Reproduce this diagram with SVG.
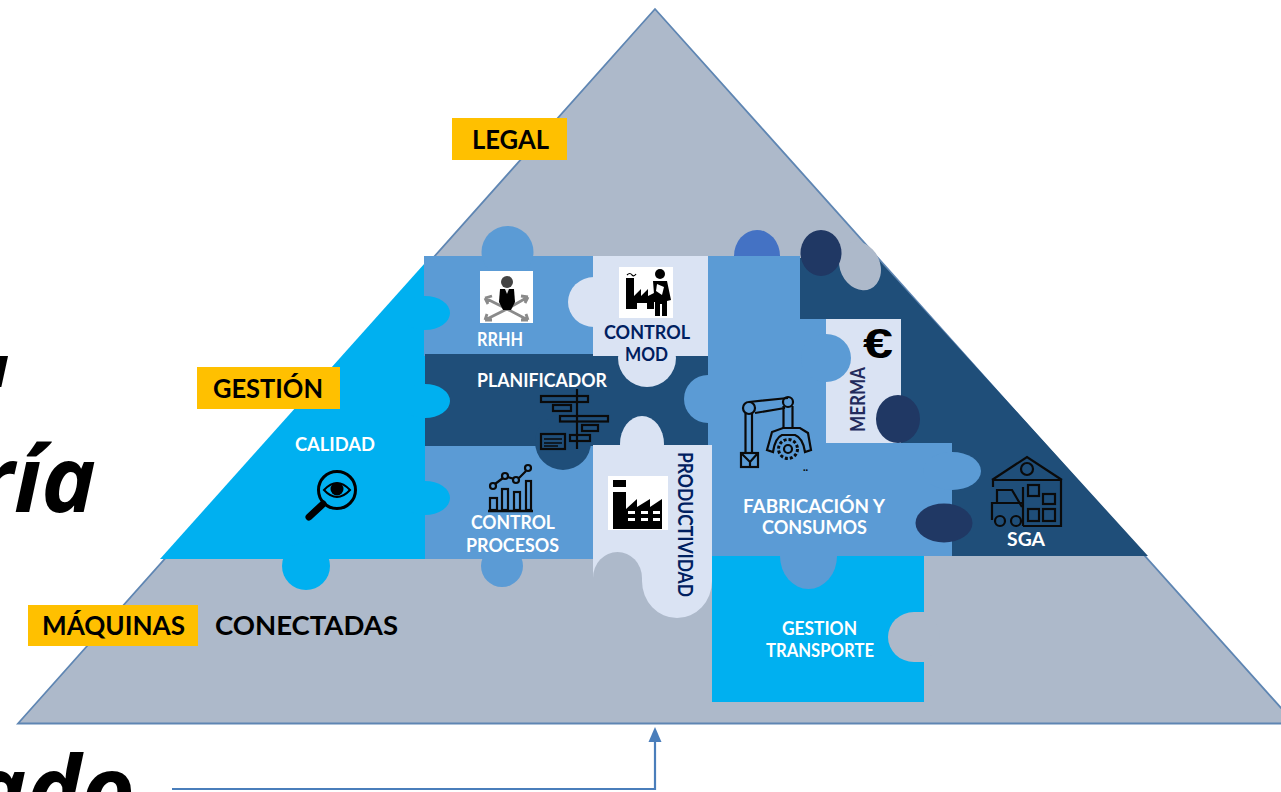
<svg xmlns="http://www.w3.org/2000/svg" width="1281" height="792" viewBox="0 0 1281 792">
<style>
.l{font-family:Lato,"Open Sans",sans-serif;font-weight:700}
.y{font-size:26px;fill:#000}
.w{font-size:18px;fill:#fff}
.n{font-size:18px;fill:#002060}
.big{font-family:"Open Sans",sans-serif;font-style:italic;font-weight:700;fill:#000;font-size:92px}
.cy{fill:#00B0F0}.mb{fill:#5B9BD5}.db{fill:#1F4E79}.lt{fill:#DAE3F3}.gr{fill:#ADB9CA}.nv{fill:#203864}.yl{fill:#FFC000}
.ik{fill:none;stroke:#0a0a0a;stroke-width:2.2}
.gy{fill:none;stroke:#8a8a8a;stroke-width:2.8}
.k{fill:#000}
</style>

<g id="fragments">
<text class="big" x="135" y="822" text-anchor="end">ado</text>
<text class="big" x="96" y="512" text-anchor="end">ría</text>
<text class="big" x="9" y="387" text-anchor="end" style="font-size:58px">u</text>
</g>

<g id="piramide"><polygon points="655,9 18,723.500 1295,723.500" class="gr" stroke="#5F86B3" stroke-width="1.800"/></g>

<g id="connectors">
<path d="M172 789H655V742" fill="none" stroke="#4A7EBB" stroke-width="2.2"/>
<path d="M655 727L661.500 742H648.500Z" fill="#4A7EBB"/>
</g>

<g id="sga">
<path class="db" d="M800 258H877L1148 556H952V443H901V319H800Z"/>
<ellipse class="gr" cx="860" cy="266" rx="20" ry="25" transform="rotate(-25 860 266)"/>
<ellipse class="nv" cx="821" cy="253" rx="20.500" ry="23"/>
<ellipse cx="757" cy="256" rx="23" ry="26" fill="#4472C4"/>
<g class="ik">
<path d="M992 480L1027 457L1062 480M993 480H1061M993 480V487M1061 480V526H1023M1023 487V526"/>
<circle cx="1027" cy="469" r="6"/>
<rect x="1028" y="485" width="11" height="11"/><rect x="1043" y="494" width="12" height="10"/>
<rect x="1028" y="509" width="11" height="12"/><rect x="1043" y="509" width="12" height="12"/>
<path d="M992 520V503H1023M997 503V490H1012L1022 507"/>
<circle cx="1000" cy="521" r="5"/><circle cx="1016" cy="521" r="5"/>
</g>
<text class="l w" x="1007" y="546" textLength="38" lengthAdjust="spacingAndGlyphs">SGA</text>
</g>

<g id="calidad">
<path class="cy" d="M160 559L425 263V559Z"/>
<circle class="cy" cx="306" cy="566" r="24"/>
<text class="l w" x="295" y="451" textLength="80" lengthAdjust="spacingAndGlyphs">CALIDAD</text>
<circle cx="337" cy="490" r="18.500" fill="none" stroke="#000" stroke-width="3"/>
<path d="M309 517L323 504" stroke="#000" stroke-width="7" stroke-linecap="round"/>
<path d="M324 490Q337 476 350 490Q337 504 324 490Z" fill="none" stroke="#000" stroke-width="2"/>
<circle cx="337" cy="489" r="6.500" fill="#000"/>
</g>

<g id="rrhh">
<rect class="mb" x="424" y="256" width="170" height="100"/>
<circle class="mb" cx="507.500" cy="252" r="26"/>
<ellipse class="cy" cx="425" cy="313" rx="25" ry="17"/>
<rect x="480" y="271" width="53" height="52" fill="#fff"/>
<path class="gy" d="M507 309L485 298M485 298L492 296M485 298L488 304M507 309L528 297M528 297L521 296M528 297L525 303M507 309L485 320M485 320L492 320M485 320L487 314M507 309L528 320M528 320L521 320M528 320L526 314"/>
<circle cx="507" cy="282" r="6" fill="#444"/>
<path class="k" d="M500 289H514L515 302L511 310H503L499 302Z"/>
<path d="M505 289L507 294L509 289Z" fill="#ddd"/>
<text class="l w" x="477" y="346" textLength="46" lengthAdjust="spacingAndGlyphs">RRHH</text>
</g>

<g id="control-procesos">
<rect class="mb" x="425" y="446" width="168" height="113"/>
<ellipse class="cy" cx="425" cy="498" rx="25" ry="17"/>
<circle class="mb" cx="502" cy="566" r="21"/>
<g class="ik">
<rect x="490" y="498" width="7" height="12"/><rect x="502" y="489" width="6" height="21"/><rect x="514" y="492" width="6" height="18"/><rect x="526" y="481" width="5" height="29"/>
<path d="M488 511H533" stroke-width="2.500"/>
<path d="M495 484L503 478M508 477L514 479M519 478L526 471"/>
<circle cx="493" cy="486" r="3"/><circle cx="505" cy="476" r="3"/><circle cx="516" cy="480" r="3"/><circle cx="528" cy="468" r="3"/>
</g>
<text class="l w" x="471" y="529" textLength="84" lengthAdjust="spacingAndGlyphs">CONTROL</text>
<text class="l w" x="466" y="552" textLength="93" lengthAdjust="spacingAndGlyphs">PROCESOS</text>
</g>

<g id="planificador">
<rect class="db" x="425" y="354" width="283" height="92"/>
<circle class="db" cx="563" cy="442" r="28"/>
<ellipse class="cy" cx="425" cy="401" rx="25" ry="17"/>
<circle class="mb" cx="708" cy="399" r="24"/>
<text class="l w" x="477" y="387" textLength="130" lengthAdjust="spacingAndGlyphs">PLANIFICADOR</text>
<g class="ik">
<path d="M577 389V449"/>
<rect x="541" y="396" width="47" height="6"/><rect x="553" y="405" width="18" height="6"/><rect x="560" y="416" width="48" height="5.500"/><rect x="582" y="425" width="16" height="6"/><rect x="570" y="435" width="20" height="6"/>
<rect x="541" y="434" width="24" height="15"/>
<path d="M544 439H562M544 443H562M544 446H558" stroke-width="1.500"/>
</g>
</g>

<g id="control-mod">
<rect class="lt" x="593" y="256" width="115" height="100"/>
<ellipse class="lt" cx="594" cy="302" rx="26" ry="25"/>
<ellipse class="lt" cx="647" cy="358" rx="29" ry="29"/>
<rect x="619" y="267" width="54" height="51" fill="#fff"/>
<path class="k" d="M626 278H634V296L641 289V296L648 289V296L654 293V309H647V303H637V309H626Z"/>
<path d="M627 275Q630 272 632 275Q634 277 636 274" fill="none" stroke="#000" stroke-width="1.200"/>
<circle cx="660" cy="274" r="5" fill="#000"/>
<path class="k" d="M653 281H667L671 300L667 301V316H662V304H660V316H655V302H651V298L654 294Z"/>
<path d="M657 284L664 287L662 295L656 291Z" fill="#fff"/>
<text class="l n" x="604" y="339" textLength="86" lengthAdjust="spacingAndGlyphs">CONTROL</text>
<text class="l n" x="625" y="361" textLength="43" lengthAdjust="spacingAndGlyphs">MOD</text>
</g>

<g id="merma">
<rect class="lt" x="826" y="319" width="75" height="124"/>
<text x="863" y="358" style="font-family:'Liberation Sans',sans-serif;font-weight:700;font-size:42px" fill="#000" textLength="30" lengthAdjust="spacingAndGlyphs">€</text>
<text class="l" transform="translate(865 432) rotate(-90)" style="font-size:20px" fill="#222A5C" textLength="65" lengthAdjust="spacingAndGlyphs">MERMA</text>
</g>

<g id="fabricacion">
<path class="mb" d="M708 256H800V319H826V443H952V556H708Z"/>
<ellipse class="mb" cx="826" cy="358" rx="25" ry="24"/>
<ellipse class="mb" cx="952" cy="471" rx="29" ry="19"/>
<ellipse class="nv" cx="898" cy="419" rx="22" ry="24"/>
<ellipse class="nv" cx="944" cy="523" rx="28.500" ry="19.500"/>
<g class="ik">
<rect x="741" y="453" width="17" height="14"/><path d="M741 453L750 462L758 453M750 462V467"/>
<path d="M745.500 413V453M752 413V453M749 402L788 398M755 413L785 408M783.500 406V428M792.500 406V428"/>
<circle cx="749" cy="408" r="6"/><circle cx="788" cy="402" r="5"/>
<path d="M767 450L772 432L783 428H800L808 433L811 450L805 452Q803 438 795 435H782Q775 438 773 452Z"/>
<circle cx="788" cy="449" r="9.500" stroke-dasharray="3 2" stroke-width="3"/><circle cx="788" cy="449" r="4"/>
</g>
<text class="l" x="803" y="471" style="font-size:11px" fill="#000">..</text>
<text class="l w" x="743" y="513" textLength="142" lengthAdjust="spacingAndGlyphs">FABRICACIÓN Y</text>
<text class="l w" x="762" y="534" textLength="105" lengthAdjust="spacingAndGlyphs">CONSUMOS</text>
</g>

<g id="productividad">
<ellipse class="lt" cx="642" cy="444" rx="22" ry="28"/>
<path class="lt" d="M593 445H712V581A35 37 0 0 1 642 581V578H593Z"/>
<path class="gr" d="M593 581V578A24.500 26 0 0 1 642 578V581Z"/>
<rect x="608" y="476" width="60" height="54" fill="#fff"/>
<path class="k" d="M613 492H626V509L637 499V507L650 499V507L662 499V529H613Z"/>
<rect class="k" x="613" y="480" width="13" height="7"/>
<path d="M628 511h7v3h-7zM641 511h7v3h-7zM653 511h7v3h-7zM628 518h7v3h-7zM641 518h7v3h-7zM653 518h7v3h-7z" fill="#fff"/>
<text class="l" transform="translate(678 452) rotate(90)" style="font-size:20px" fill="#002060" textLength="145" lengthAdjust="spacingAndGlyphs">PRODUCTIVIDAD</text>
</g>

<g id="transporte">
<rect class="cy" x="712" y="556" width="212" height="146"/>
<path class="mb" d="M780 556A28.500 33 0 0 0 837 556Z"/>
<ellipse class="gr" cx="914" cy="637" rx="26" ry="25"/>
<rect class="gr" x="914" y="612" width="10" height="50"/>
<text class="l w" x="782" y="635" textLength="75" lengthAdjust="spacingAndGlyphs">GESTION</text>
<text class="l w" x="766" y="657" textLength="108" lengthAdjust="spacingAndGlyphs">TRANSPORTE</text>
</g>

<g id="legal">
<rect class="yl" x="452" y="118" width="115" height="42"/>
<text class="l y" x="472" y="149" textLength="77" lengthAdjust="spacingAndGlyphs">LEGAL</text>
</g>
<g id="gestion">
<rect class="yl" x="197" y="367" width="143" height="42"/>
<text class="l y" x="213" y="398" textLength="110" lengthAdjust="spacingAndGlyphs">GESTIÓN</text>
</g>
<g id="maquinas">
<rect class="yl" x="28" y="605" width="170" height="41"/>
<text class="l y" x="42" y="635" textLength="143" lengthAdjust="spacingAndGlyphs">MÁQUINAS</text>
<text class="l y" x="215" y="635" textLength="183" lengthAdjust="spacingAndGlyphs">CONECTADAS</text>
</g>
</svg>
